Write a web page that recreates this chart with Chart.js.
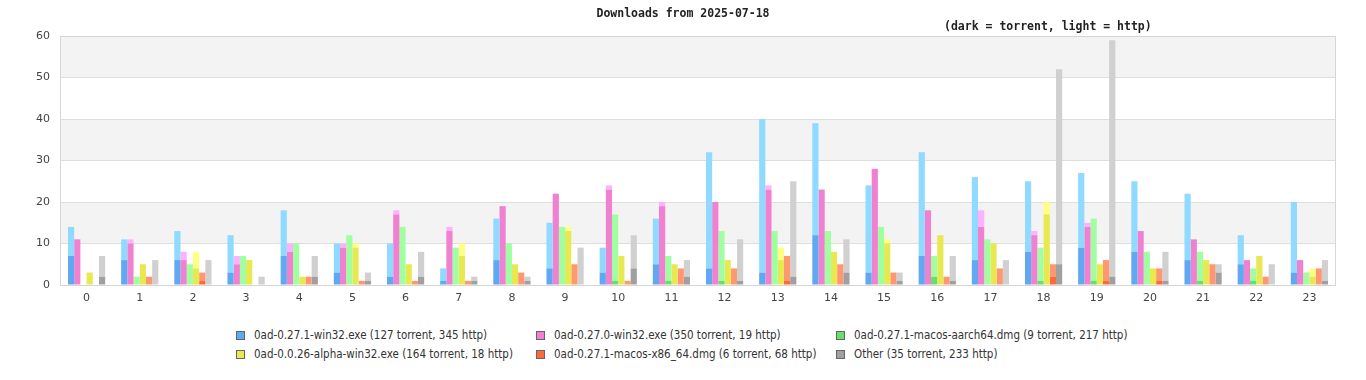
<!DOCTYPE html>
<html><head><meta charset="utf-8">
<script src="https://cdn.jsdelivr.net/npm/chart.js@4"></script>
<style>
html,body{margin:0;padding:0;background:#fff;width:1366px;height:380px;overflow:hidden;}
#wrap{position:absolute;left:0;top:0;width:1366px;height:312px;}
.t{position:absolute;font-family:"DejaVu Sans Mono",monospace;font-weight:bold;font-size:11.5px;line-height:14px;color:#222;white-space:pre;}
#legend{position:absolute;left:236px;top:327px;display:grid;grid-template-columns:300px 300px 300px;grid-auto-rows:19px;font-family:"DejaVu Sans Condensed","DejaVu Sans",sans-serif;font-stretch:condensed;font-size:11.5px;color:#333;}
#legend .it{display:flex;align-items:center;white-space:nowrap;height:16px;}
#legend .sw{width:7px;height:7px;border:1px solid #666;margin-right:9px;box-sizing:content-box;}
</style></head>
<body>
<div id="wrap"><canvas id="c" width="1366" height="312"></canvas></div>
<div class="t" id="title" style="left:0;width:1366px;text-align:center;top:6px;">Downloads from 2025-07-18</div>
<div class="t" id="sub" style="left:944px;top:19px;">(dark = torrent, light = http)</div>
<div id="legend"></div>
<script>
const hours = ['0','1','2','3','4','5','6','7','8','9','10','11','12','13','14','15','16','17','18','19','20','21','22','23'];
const fileNames = ['0ad-0.27.1-win32.exe','0ad-0.27.0-win32.exe','0ad-0.27.1-macos-aarch64.dmg','0ad-0.0.26-alpha-win32.exe','0ad-0.27.1-macos-x86_64.dmg','Other'];

const win32_271_torrent = [7,6,6,3,7,3,2,1,6,4,3,5,4,3,12,3,7,6,8,9,8,6,5,3];
const win32_271_http    = [7,5,7,9,11,7,8,3,10,11,6,11,28,37,27,21,25,20,17,18,17,16,7,17];
const win32_270_torrent = [11,10,6,5,8,9,17,13,19,22,23,19,20,23,23,28,18,14,12,14,13,11,6,6];
const win32_270_http    = [0,1,2,2,2,1,1,1,0,0,1,1,0,1,0,0,0,4,1,1,0,0,0,0];
const aarch64_torrent   = [0,0,0,0,0,0,0,0,0,0,1,1,1,0,0,0,2,0,1,1,0,1,1,0];
const aarch64_http      = [0,2,5,7,10,12,14,9,10,14,16,6,12,13,13,14,5,11,8,15,8,7,3,3];
const alpha026_torrent  = [3,5,4,6,2,9,5,7,5,13,7,5,6,6,8,10,12,10,17,5,4,6,7,2];
const alpha026_http     = [0,0,4,0,0,1,0,3,0,1,0,0,0,3,0,1,0,0,3,0,0,0,0,2];
const x86_torrent       = [0,0,1,0,0,0,0,0,0,0,0,0,0,1,0,0,0,0,2,1,1,0,0,0];
const x86_http          = [0,2,2,0,2,1,1,1,3,5,1,4,4,6,5,3,2,4,3,5,3,5,2,4];
const other_torrent     = [2,0,0,0,2,1,2,1,1,0,4,2,1,2,3,1,1,0,5,2,1,3,0,1];
const other_http        = [5,6,6,2,5,2,6,1,1,9,8,4,10,23,8,2,6,6,47,57,7,2,5,5];

const yTicks = [0,10,20,30,40,50,60];

const torrentSeries = [win32_271_torrent, win32_270_torrent, aarch64_torrent, alpha026_torrent, x86_torrent, other_torrent];
const httpSeries = [win32_271_http, win32_270_http, aarch64_http, alpha026_http, x86_http, other_http];
const darkColors = ['#60a8f0','#f080d0','#66e066','#e8e850','#ff6838','#a0a0a0'];
const lightColors = ['#90daff','#ffb0ff','#a0ffa0','#ffff80','#ff9870','#d0d0d0'];

const sum = a => a.reduce((s,v)=>s+v,0);

const datasets = [];
fileNames.forEach((n,i)=>{
  datasets.push({label:n+' torrent', data:torrentSeries[i], backgroundColor:darkColors[i], stack:'s'+i});
  datasets.push({label:n+' http', data:httpSeries[i], backgroundColor:lightColors[i], stack:'s'+i});
});

// HTML legend
const leg = document.getElementById('legend');
fileNames.forEach((n,i)=>{
  const d = document.createElement('div'); d.className='it';
  const s = document.createElement('span'); s.className='sw'; s.style.background=darkColors[i];
  const t = document.createElement('span'); t.textContent = n+' ('+sum(torrentSeries[i])+' torrent, '+sum(httpSeries[i])+' http)';
  d.appendChild(s); d.appendChild(t); leg.appendChild(d);
});

const bandsPlugin = {
  id:'bands',
  beforeDraw(chart){
    const {ctx, chartArea:a, scales:{y}} = chart;
    ctx.save();
    ctx.fillStyle = '#f3f3f3';
    for (let v=10; v<60; v+=20){
      const y1 = y.getPixelForValue(v+10), y0 = y.getPixelForValue(v);
      ctx.fillRect(a.left, y1, a.right-a.left, y0-y1);
    }
    ctx.restore();
  },
  afterDraw(chart){
    const {ctx, chartArea:a} = chart;
    ctx.save();
    ctx.strokeStyle = '#d6d6d6'; ctx.lineWidth = 1;
    ctx.strokeRect(Math.round(a.left)+0.5, Math.round(a.top)+0.5, Math.round(a.right-a.left)-1, Math.round(a.bottom-a.top));
    ctx.restore();
  }
};

new Chart(document.getElementById('c'), {
  type:'bar',
  data:{labels:hours, datasets},
  options:{
    responsive:false, animation:false,
    layout:{padding:{top:36,right:30,left:0,bottom:0}},
    datasets:{bar:{categoryPercentage:0.70, barPercentage:1.0, borderWidth:0}},
    plugins:{legend:{display:false}, title:{display:false}, tooltip:{enabled:false}},
    scales:{
      x:{stacked:true, grid:{display:false, drawTicks:false}, border:{display:false},
         ticks:{color:'#444', font:{family:'DejaVu Sans', size:11}, padding:7, maxRotation:0, autoSkip:false},
         afterFit(s){ s.height = 27; }},
      y:{stacked:true, min:0, max:60, grid:{color:'#dedede', drawTicks:false}, border:{display:false},
         ticks:{color:'#444', font:{family:'DejaVu Sans', size:11}, padding:10, stepSize:10,
                callback:(v)=> yTicks.includes(v) ? String(v) : ''},
         afterFit(s){ s.width = 60; }}
    }
  },
  plugins:[bandsPlugin]
});
</script>
</body></html>
